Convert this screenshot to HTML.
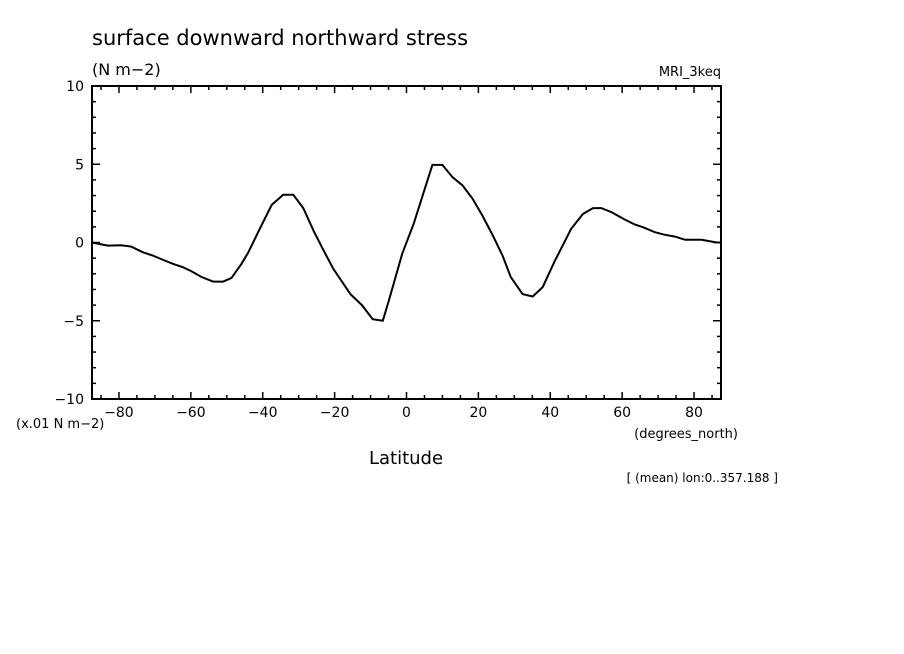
<!DOCTYPE html>
<html><head><meta charset="utf-8"><style>
body{margin:0;background:#fff;}
svg{display:block;font-family:"DejaVu Sans","Liberation Sans",sans-serif;}
</style></head><body>
<svg id="chart" width="904" height="654" viewBox="0 0 904 654">
<rect width="904" height="654" fill="#fff"/>
<text x="92" y="45" font-size="21" fill="#000">surface downward northward stress</text>
<text x="92" y="75" font-size="16" fill="#000">(N m−2)</text>
<text x="721" y="76" font-size="13" text-anchor="end" fill="#000">MRI_3keq</text>
<text x="16" y="428" font-size="13" fill="#000">(x.01 N m−2)</text>
<text x="738" y="438" font-size="13" text-anchor="end" fill="#000">(degrees_north)</text>
<text x="406" y="464" font-size="18" text-anchor="middle" fill="#000">Latitude</text>
<text x="778" y="482" font-size="12" text-anchor="end" fill="#000">[ (mean) lon:0..357.188 ]</text>
<g id="axes"></g>
<g id="series"></g>
</svg>
<script>
const lats=[-87.8,-83.1,-79.4,-76.6,-73.4,-70.6,-67.3,-65,-62.2,-59.9,-57.1,-53.8,-51,-48.7,-45.9,-44,-41.3,-37.5,-34.3,-31.5,-28.7,-25.9,-23.1,-20.3,-15.6,-12.4,-9.4,-6.6,-4.9,-1.2,2,7.2,10,12.8,15.6,18.4,21.1,24,26.7,29,32.3,35.1,37.9,41.1,45.8,49.1,51.9,54.2,57,60.7,63.5,65.8,69.1,71.9,74.7,77.5,82.1,86.3,87.7];
const vals=[0,-0.2,-0.17,-0.26,-0.62,-0.83,-1.15,-1.36,-1.58,-1.83,-2.2,-2.5,-2.5,-2.26,-1.36,-0.62,0.66,2.4,3.05,3.05,2.2,0.77,-0.5,-1.7,-3.3,-4,-4.9,-5,-3.7,-0.72,1.2,4.96,4.96,4.17,3.64,2.79,1.73,0.45,-0.83,-2.2,-3.3,-3.45,-2.85,-1.26,0.87,1.83,2.2,2.2,1.94,1.47,1.15,0.98,0.66,0.49,0.38,0.17,0.17,0,0];
const xTicks=[-80,-60,-40,-20,0,20,40,60,80];
const yTicks=[-10,-5,0,5,10];
const NS='http://www.w3.org/2000/svg';
const L=92,R=721,T=86,B=399;
const X=v=>406.5+(v)*(R-L)/175;
const Y=v=>(T+B)/2-v*(B-T)/20;
const ax=document.getElementById('axes');
function mk(tag,attrs,parent){const e=document.createElementNS(NS,tag);for(const k in attrs)e.setAttribute(k,attrs[k]);parent.appendChild(e);return e;}
const frame=mk('rect',{x:L,y:T,width:R-L,height:B-T,fill:'none',stroke:'#000','stroke-width':2},ax);


for(let v=-85;v<=85;v+=5){
  const major=v%20===0;const len=major?7:4;
  const t1=mk('line',{x1:X(v),x2:X(v),y1:B,y2:B-len,stroke:'#000','stroke-width':1.5},ax);
  
  
  const t2=mk('line',{x1:X(v),x2:X(v),y1:T,y2:T+len,stroke:'#000','stroke-width':1.5},ax);
  
  
}
xTicks.forEach(v=>{
  const t=mk('text',{x:X(v),y:B+18,'font-size':14,'text-anchor':'middle',fill:'#000'},ax);
  t.textContent=v===0?'0':String(v).replace('-','−');
  
  
});
for(let v=-10;v<=10;v+=1){
  const major=v%5===0;const len=major?8:4;
  const t1=mk('line',{x1:L,x2:L+len,y1:Y(v),y2:Y(v),stroke:'#000','stroke-width':1.5},ax);
  
  
  const t2=mk('line',{x1:R,x2:R-len,y1:Y(v),y2:Y(v),stroke:'#000','stroke-width':1.5},ax);
  
  
}
yTicks.forEach(v=>{
  const t=mk('text',{x:L-8,y:Y(v)+5,'font-size':14,'text-anchor':'end',fill:'#000'},ax);
  t.textContent=String(v).replace('-','−');
  
  
});
const d=lats.map((la,i)=>(i?'L':'M')+X(Math.max(-87.5,Math.min(87.5,la))).toFixed(1)+','+Y(vals[i]).toFixed(1)).join(' ');
const p=mk('path',{d:d,fill:'none',stroke:'#000','stroke-width':2},document.getElementById('series'));


</script>
</body></html>
